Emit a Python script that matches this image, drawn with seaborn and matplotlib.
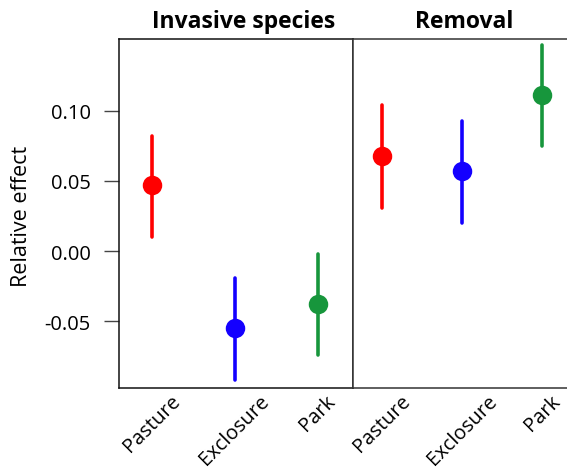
import matplotlib
matplotlib.use("Agg")
import matplotlib.pyplot as plt
import seaborn as sns
import pandas as pd

categories = ["Pasture", "Exclosure", "Park"]
colors = ["#ff0000", "#1400ff", "#17963c"]

inv_mean = [0.047, -0.055, -0.038]
inv_lo = [0.010, -0.092, -0.074]
inv_hi = [0.082, -0.019, -0.002]

rem_mean = [0.068, 0.057, 0.111]
rem_lo = [0.031, 0.020, 0.075]
rem_hi = [0.104, 0.093, 0.147]

yticks = [-0.05, 0.00, 0.05, 0.10]
ytick_labels = ["-0.05", "0.00", "0.05", "0.10"]

sns.set_style("white")
plt.rcParams["font.family"] = ["Open Sans", "DejaVu Sans"]
plt.rcParams["text.color"] = "black"
plt.rcParams["axes.labelcolor"] = "black"
plt.rcParams["xtick.color"] = "black"
plt.rcParams["ytick.color"] = "black"


def long_frame(lo, mid, hi):
    rows = []
    for c, a, b, d in zip(categories, lo, mid, hi):
        for v in (a, b, d):
            rows.append({"cat": c, "val": v})
    return pd.DataFrame(rows)


fig = plt.figure(figsize=(5.67, 4.77), dpi=100)
W, H = 567, 477
bottom = 1 - 389 / H
height = (389 - 40) / H
ax1 = fig.add_axes([118.5 / W, bottom, (353.3 - 118.5) / W, height])
ax2 = fig.add_axes([353.3 / W, bottom, (567 - 353.3) / W, height], sharey=ax1)

for ax, (lo, mid, hi) in ((ax1, (inv_lo, inv_mean, inv_hi)), (ax2, (rem_lo, rem_mean, rem_hi))):
    df = long_frame(lo, mid, hi)
    sns.pointplot(data=df, x="cat", y="val", hue="cat", palette=colors,
                  order=categories, hue_order=categories,
                  estimator="median", errorbar=("pi", 100),
                  linestyle="none", markersize=12, err_kws={"linewidth": 2.6},
                  legend=False, ax=ax)
    ax.set_xlabel("")
    ax.set_ylabel("")
    ax.tick_params(axis="x", length=0, pad=2, labelsize=14.5, labelrotation=45,
                   labelcolor="black")
    for lab in ax.get_xticklabels():
        lab.set_ha("center")

ax1.set_xlim(-0.40, 2.43)
ax2.set_xlim(-0.36, 2.31)
ax1.set_ylim(-0.0976, 0.1511)
ax1.set_yticks(yticks)
ax1.set_yticklabels(ytick_labels)
ax1.tick_params(axis="y", length=11, width=1, color="#444444", pad=9, labelsize=14.5,
                left=True, labelcolor="black")
ax2.tick_params(axis="y", left=False, labelleft=False)

for sp in ax1.spines.values():
    sp.set_color("#111111")
    sp.set_linewidth(1.1)
for name, sp in ax2.spines.items():
    sp.set_color("#333333")
    sp.set_linewidth(1.1)
ax2.spines["right"].set_visible(False)

ax1.set_ylabel("Relative effect", fontsize=15.5, color="black")
ax1.yaxis.set_label_coords(-0.368, 0.494)

ax1.text(0.534, 1.034, "Invasive species", transform=ax1.transAxes,
         ha="center", va="baseline", fontsize=16.5, fontweight="bold", color="black")
ax2.text(0.52, 1.034, "Removal", transform=ax2.transAxes,
         ha="center", va="baseline", fontsize=16.5, fontweight="bold", color="black")

fig.savefig("out.png", dpi=100)
